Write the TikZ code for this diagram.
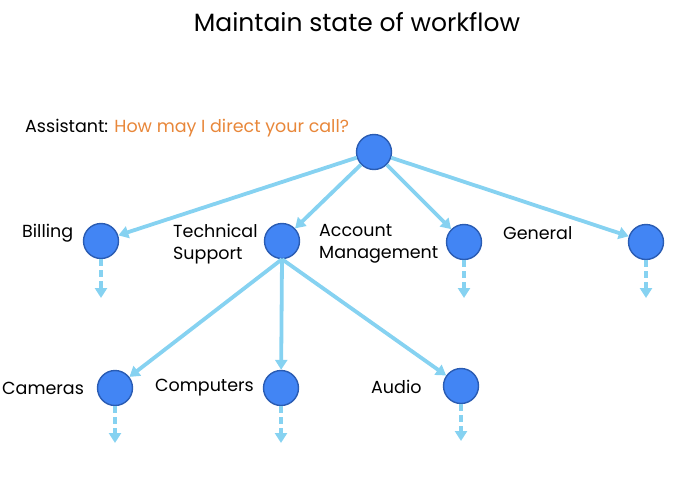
\documentclass[tikz,border=0pt]{standalone}
\usepackage{fontspec}
\setmainfont{Poppins}
\usetikzlibrary{arrows.meta}
\definecolor{statefill}{HTML}{4285F4}
\definecolor{stateborder}{HTML}{2A5CB3}
\definecolor{flowblue}{HTML}{86D2F1}
\definecolor{askorange}{HTML}{E8873A}
\begin{document}
\begin{tikzpicture}[x=1pt,y=1pt,yscale=-1,xscale=1,
  state/.style={circle,draw=stateborder,fill=statefill,line width=1.4pt,minimum size=35pt,inner sep=0pt},
  flow/.style={draw=flowblue,line width=3.8pt,-{Triangle[length=10pt,width=12pt]}},
  nextflow/.style={flow,dash pattern=on 7pt off 4pt},
  lbl/.style={font=\fontsize{17.5}{22}\selectfont,inner sep=0pt,align=left}]
\useasboundingbox (0,0) rectangle (675,485);

% Title
\node (title) at (357,22) {\fontsize{25}{28}\selectfont Maintain state of workflow};

% States
\node[state] (root) at (374,152) {};
\node[state] (billing) at (101,241) {};
\node[state] (tech) at (282,241) {};
\node[state] (account) at (464,242) {};
\node[state] (general) at (646,242) {};
\node[state] (cameras) at (115,388) {};
\node[state] (computers) at (281,388) {};
\node[state] (audio) at (461,386) {};

% Text Node
\node[lbl,anchor=west] (ask) at (25,128) {Assistant: \textcolor{askorange}{How may I direct your call?}};
\node[lbl,anchor=west] (billing-lbl) at (22,233) {Billing};
\node[lbl,anchor=west] (tech-lbl) at (173,244) {Technical\\Support};
\node[lbl,anchor=west] (account-lbl) at (319,244) {Account\\Management};
\node[lbl,anchor=west] (general-lbl) at (503,233) {General};
\node[lbl,anchor=west] (cameras-lbl) at (2,388) {Cameras};
\node[lbl,anchor=west] (computers-lbl) at (155,388) {Computers};
\node[lbl,anchor=west] (audio-lbl) at (371,387) {Audio};

% Dashed ends
\coordinate (billing-next) at (101,298);
\coordinate (account-next) at (464,298);
\coordinate (general-next) at (646,298);
\coordinate (cameras-next) at (115,443);
\coordinate (computers-next) at (281,443);
\coordinate (audio-next) at (461,441);

% Flows
\draw[flow] (root) -- (billing);
\draw[flow] (root) -- (tech);
\draw[flow] (root) -- (account);
\draw[flow] (root) -- (general);
\draw[flow] (tech.south) -- (cameras);
\draw[flow] (tech.south) -- (computers);
\draw[flow] (tech.south) -- (audio);

\foreach \s in {billing,account,general,cameras,computers,audio}
  \draw[nextflow] (\s.south) -- (\s-next);

\end{tikzpicture}
\end{document}
